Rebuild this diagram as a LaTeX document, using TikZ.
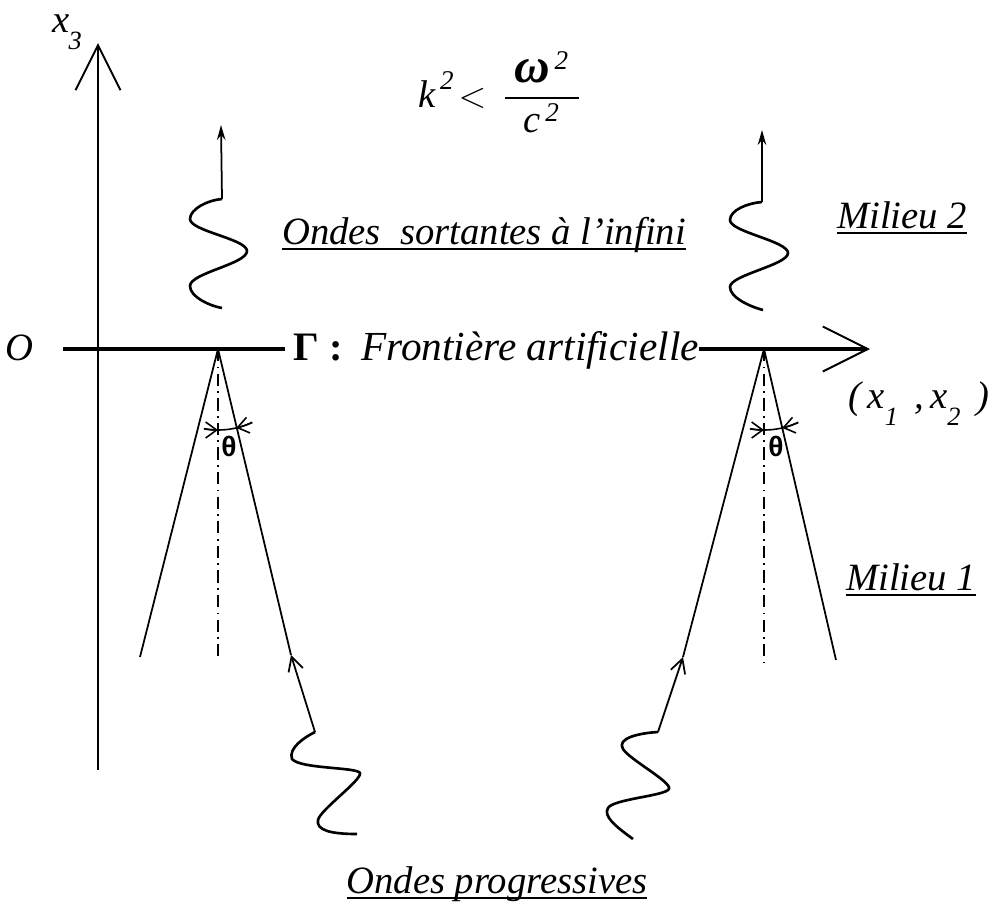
\documentclass[tikz,border=0pt]{standalone}
\usepackage{amsmath}
\usepackage{fontspec}
\setmainfont{Liberation Serif}
\newfontfamily\thetafont{Liberation Sans}
\usetikzlibrary{arrows.meta,positioning,calc}

\newcommand\sub[1]{\raisebox{-0.45em}{\fontsize{15}{17}\selectfont #1}}
\newcommand\ul[1]{\setbox0\hbox{#1}\rlap{\rule[-0.16em]{\wd0}{1.3pt}}\box0}

\begin{document}
\begin{tikzpicture}[x=0.02cm, y=-0.02cm,
    lbl/.style={anchor=base, inner sep=0pt, font=\fontsize{22}{26}\selectfont\itshape},
    frontier/.style={draw, line width=2.1pt},
    axis/.style={draw, line width=0.8pt},
    bigtip/.style={-{Straight Barb[length=0.9cm, width=0.9cm, line width=1.1pt]}},
    cone/.style={draw, line width=1pt},
    midline/.style={draw, line width=0.7pt, dash pattern=on 7pt off 3pt on 1pt off 3pt},
    wave/.style={draw, line width=1.5pt, line join=round},
    outtip/.style={-{Stealth[length=0.3cm, width=0.17cm]}},
    intip/.style={-{Straight Barb[length=0.28cm, width=0.3cm, line width=1pt]}},
    anglearc/.style={draw, line width=0.9pt},
    angtip/.style={-{Straight Barb[length=0.22cm, width=0.32cm, line width=0.9pt]}},
    thetalbl/.style={inner sep=0pt, font=\thetafont\bfseries\fontsize{16}{18}\selectfont}]

    \useasboundingbox (0,0) rectangle (992,914);

    \coordinate (axT) at (98,43);
    \coordinate (axB) at (98,770);
    \coordinate (axL) at (63,349);
    \coordinate (axR) at (870,349);
    \coordinate (vL) at (218,349);
    \coordinate (vR) at (764,349);
    \coordinate (cLa) at (140,657);
    \coordinate (tipL) at (291,655);
    \coordinate (mL) at (218,657);
    \coordinate (tipR) at (683,657);
    \coordinate (cRb) at (836,660);
    \coordinate (mR) at (764,662);
    \coordinate (wUL) at (222,199);
    \coordinate (aUL) at (221,125);
    \coordinate (wUR) at (762,202);
    \coordinate (aUR) at (762,130);
    \coordinate (wLL) at (315,732);
    \coordinate (wLR) at (658,732);

    \node[lbl] (cond) at (500,107) {$\text{\textit{k}}^{\,\text{2}}\!<\,\dfrac{\;\text{\fontsize{28}{30}\selectfont\textbf{ω}}^{\,\text{2}}\;}{\text{\textit{c}}^{\,\text{2}}}$};
    \node[lbl, anchor=base west] (xlab) at (52,32) {x\kern-0.02em\sub{3}};
    \node[lbl] (orig) at (19,360) {O};
    \node[lbl, anchor=base west, font=\fontsize{23}{26}\selectfont\bfseries] (gam) at (293,360) {Γ :};
    \node[lbl, anchor=base west, font=\fontsize{23.5}{26}\selectfont\itshape] (front) at (361,360) {Frontière artificielle};
    \node[lbl, anchor=base west] (coord) at (848,408) {(\,x\sub{1}\ \,,\,x\sub{2}\,\ )};
    \node[lbl] (sort) at (484,244) {\ul{Ondes\ \ sortantes à l'infini}};
    \node[lbl] (mil2) at (902,228) {\ul{Milieu 2}};
    \node[lbl] (mil1) at (911,590) {\ul{Milieu 1}};
    \node[lbl] (prog) at (497,893) {\ul{Ondes progressives}};
    \node[thetalbl] (thL) at (229,446) {θ};
    \node[thetalbl] (thR) at (776,446) {θ};

    \path[axis, bigtip] (axB) -- (axT);
    \path[frontier] (axL) -- ($(gam.west |- axL)+(-8,0)$);
    \path[frontier, bigtip] (front.east |- axL) -- (axR);

    \path[cone] (vL) -- (cLa);
    \path[cone] (vL) -- (tipL);
    \path[midline] (vL) -- (mL);
    \path[cone] (vR) -- (tipR);
    \path[cone] (vR) -- (cRb);
    \path[midline] (vR) -- (mR);

    \foreach \v in {vL,vR} {
        \path[anglearc] (\v) ++(100:81) arc[start angle=100, end angle=65, radius=81];
        \path[anglearc, angtip] (\v) ++(100:81) arc[start angle=100, end angle=90, radius=81];
        \path[anglearc, angtip] (\v) ++(65:81) arc[start angle=65, end angle=77, radius=81];
    }

    \path[wave] (222,308) .. controls (210,306) and (190,297) .. (190,286)
        .. controls (190,273) and (247,264) .. (247,251)
        .. controls (247,239) and (190,231) .. (190,219)
        .. controls (190,209) and (208,200) .. (wUL);
    \path[cone, outtip] (wUL) -- (aUL);

    \path[wave] (763,310) .. controls (748,306) and (730,297) .. (730,287)
        .. controls (730,275) and (788,265) .. (788,253)
        .. controls (788,241) and (730,232) .. (730,220)
        .. controls (730,210) and (748,203) .. (wUR);
    \path[cone, outtip] (wUR) -- (aUR);

    \path[wave] (357,834) .. controls (330,834) and (316,830) .. (318,820)
        .. controls (320,810) and (362,780) .. (360,773)
        .. controls (357,767) and (300,769) .. (292,759)
        .. controls (288,748) and (305,737) .. (wLL);
    \path[cone, intip] (wLL) -- (tipL);

    \path[wave] (633,839) .. controls (615,826) and (603,816) .. (608,808)
        .. controls (613,799) and (665,796) .. (669,789)
        .. controls (672,782) and (630,760) .. (623,749)
        .. controls (616,738) and (640,733) .. (wLR);
    \path[cone, intip] (wLR) -- (tipR);
\end{tikzpicture}
\end{document}
